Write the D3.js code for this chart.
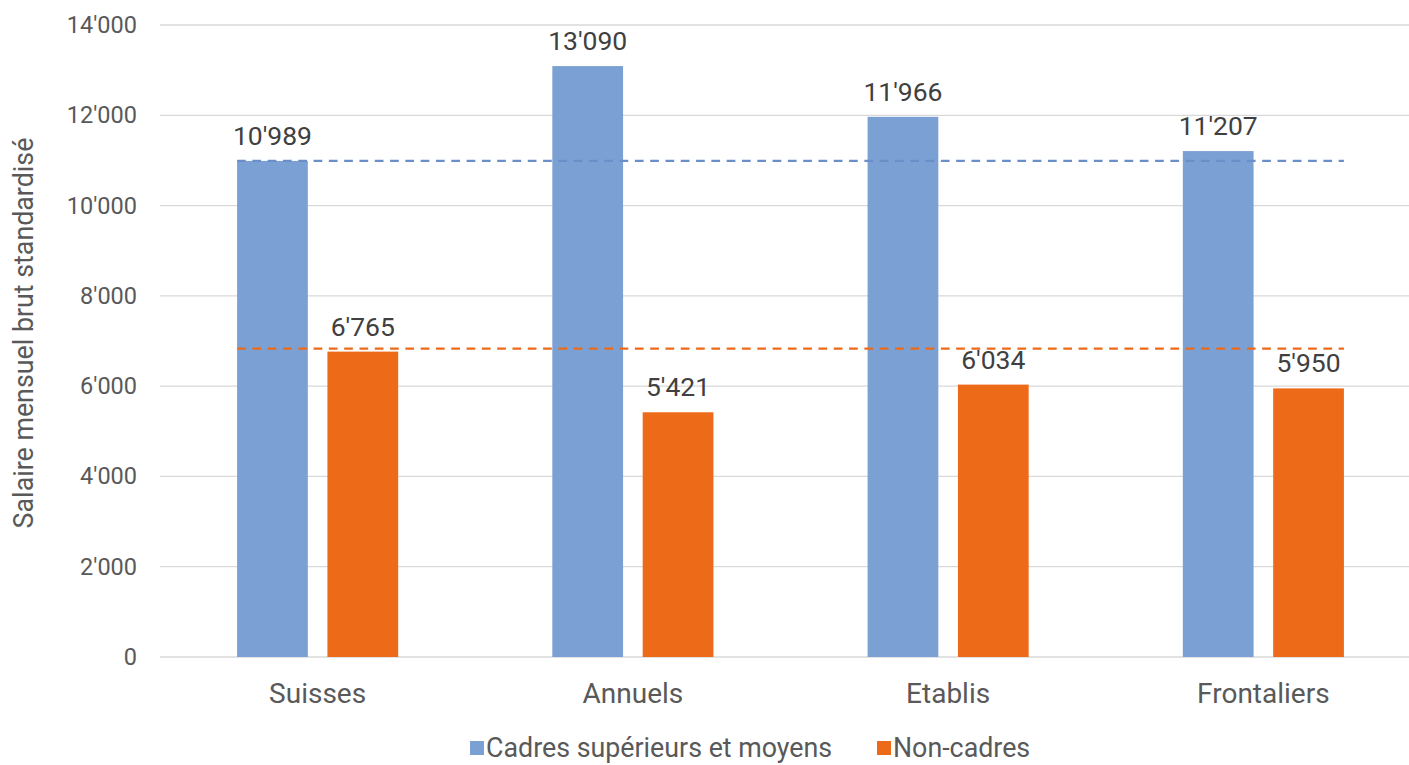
<!DOCTYPE html>
<html>
<head>
<meta charset="utf-8">
<script src="https://cdn.jsdelivr.net/npm/d3@7"></script>
<style>
  html, body { margin: 0; padding: 0; background: #fff; }
  svg { display: block; font-family: Roboto, "Noto Sans", sans-serif; }
</style>
</head>
<body>
<svg id="chart" width="1409" height="765"></svg>
<script>
const categories = ["Suisses", "Annuels", "Etablis", "Frontaliers"];
const seriesNames = ["Cadres supérieurs et moyens", "Non-cadres"];
const cadres = [10989, 13090, 11966, 11207];
const nonCadres = [6765, 5421, 6034, 5950];
const referenceValues = [10989, 6830];
const yTicks = [0, 2000, 4000, 6000, 8000, 10000, 12000, 14000];
const colors = ["#7ba0d3", "#ed6a18"];
const refColors = ["#6a8fc8", "#ed6a18"];

const svg = d3.select("#chart");
const W = 1409, H = 765;
const plot = { left: 160, right: 1421, top: 25, bottom: 657 };

const loc = d3.formatLocale({ decimal: ".", thousands: "'", grouping: [3], currency: ["", ""] });
const fmt = loc.format(",d");

const y = d3.scaleLinear().domain([0, 14000]).range([plot.bottom, plot.top]);
const x0 = d3.scaleBand().domain(categories).range([plot.left, plot.right])
  .paddingInner(0.489).paddingOuter(0.2445);
const x1 = d3.scaleBand().domain([0, 1]).range([0, x0.bandwidth()]).paddingInner(0.217).paddingOuter(0);

// gridlines
svg.append("g").selectAll("line").data(yTicks).join("line")
  .attr("x1", plot.left).attr("x2", W)
  .attr("y1", d => y(d)).attr("y2", d => y(d))
  .attr("stroke", "#d9d9d9").attr("stroke-width", 1.3);

// y axis labels
const yAxis = d3.axisLeft(y).tickValues(yTicks).tickFormat(fmt).tickSize(0).tickPadding(0);
const yg = svg.append("g").attr("transform", `translate(137,0)`).call(yAxis);
yg.select(".domain").remove();
yg.selectAll("text").attr("fill", "#595959").attr("font-size", 23.5).attr("font-family", "Roboto");

// y title
svg.append("text")
  .attr("transform", `translate(33,333) rotate(-90)`)
  .attr("text-anchor", "middle")
  .attr("fill", "#595959").attr("font-size", 26.8)
  .text("Salaire mensuel brut standardisé");

// bars
const series = [cadres, nonCadres];
const groups = svg.append("g").selectAll("g").data(categories).join("g")
  .attr("transform", d => `translate(${x0(d)},0)`);

groups.each(function (cat, i) {
  const g = d3.select(this);
  const vals = series.map((s, k) => ({ k, v: s[i] }));
  g.selectAll("rect").data(vals).join("rect")
    .attr("x", d => x1(d.k)).attr("width", x1.bandwidth())
    .attr("y", d => y(d.v)).attr("height", d => y(0) - y(d.v))
    .attr("fill", d => colors[d.k]);
  g.selectAll("text.lbl").data(vals).join("text").attr("class", "lbl")
    .attr("x", d => x1(d.k) + x1.bandwidth() / 2)
    .attr("y", d => y(d.v) - 16)
    .attr("text-anchor", "middle")
    .attr("fill", "#404040").attr("font-size", 26.5)
    .text(d => fmt(d.v));
});

// reference dashed lines
const lx1 = x0(categories[0]);
const lx2 = x0(categories[categories.length - 1]) + x0.bandwidth();
svg.append("g").selectAll("line").data(referenceValues).join("line")
  .attr("x1", lx1).attr("x2", lx2)
  .attr("y1", d => y(d)).attr("y2", d => y(d))
  .attr("stroke", (d, i) => refColors[i]).attr("stroke-width", 2.3)
  .attr("stroke-dasharray", "8.7,6.6");

// x axis labels
const xAxis = d3.axisBottom(x0).tickSize(0).tickPadding(0);
const xg = svg.append("g").attr("transform", `translate(0,${plot.bottom})`).call(xAxis);
xg.select(".domain").remove();
xg.selectAll("text").attr("fill", "#595959").attr("font-size", 28)
  .attr("font-family", "Roboto").attr("dy", null).attr("y", 46);

// legend
const legendItems = [
  { name: seriesNames[0], color: colors[0], x: 470 },
  { name: seriesNames[1], color: colors[1], x: 877 }
];
const lg = svg.append("g").selectAll("g").data(legendItems).join("g")
  .attr("transform", d => `translate(${d.x},0)`);
lg.append("rect").attr("x", 0).attr("y", 741).attr("width", 14).attr("height", 14)
  .attr("fill", d => d.color);
lg.append("text").attr("x", 16).attr("y", 757).attr("fill", "#595959").attr("font-size", 26.8)
  .text(d => d.name);
</script>
</body>
</html>
